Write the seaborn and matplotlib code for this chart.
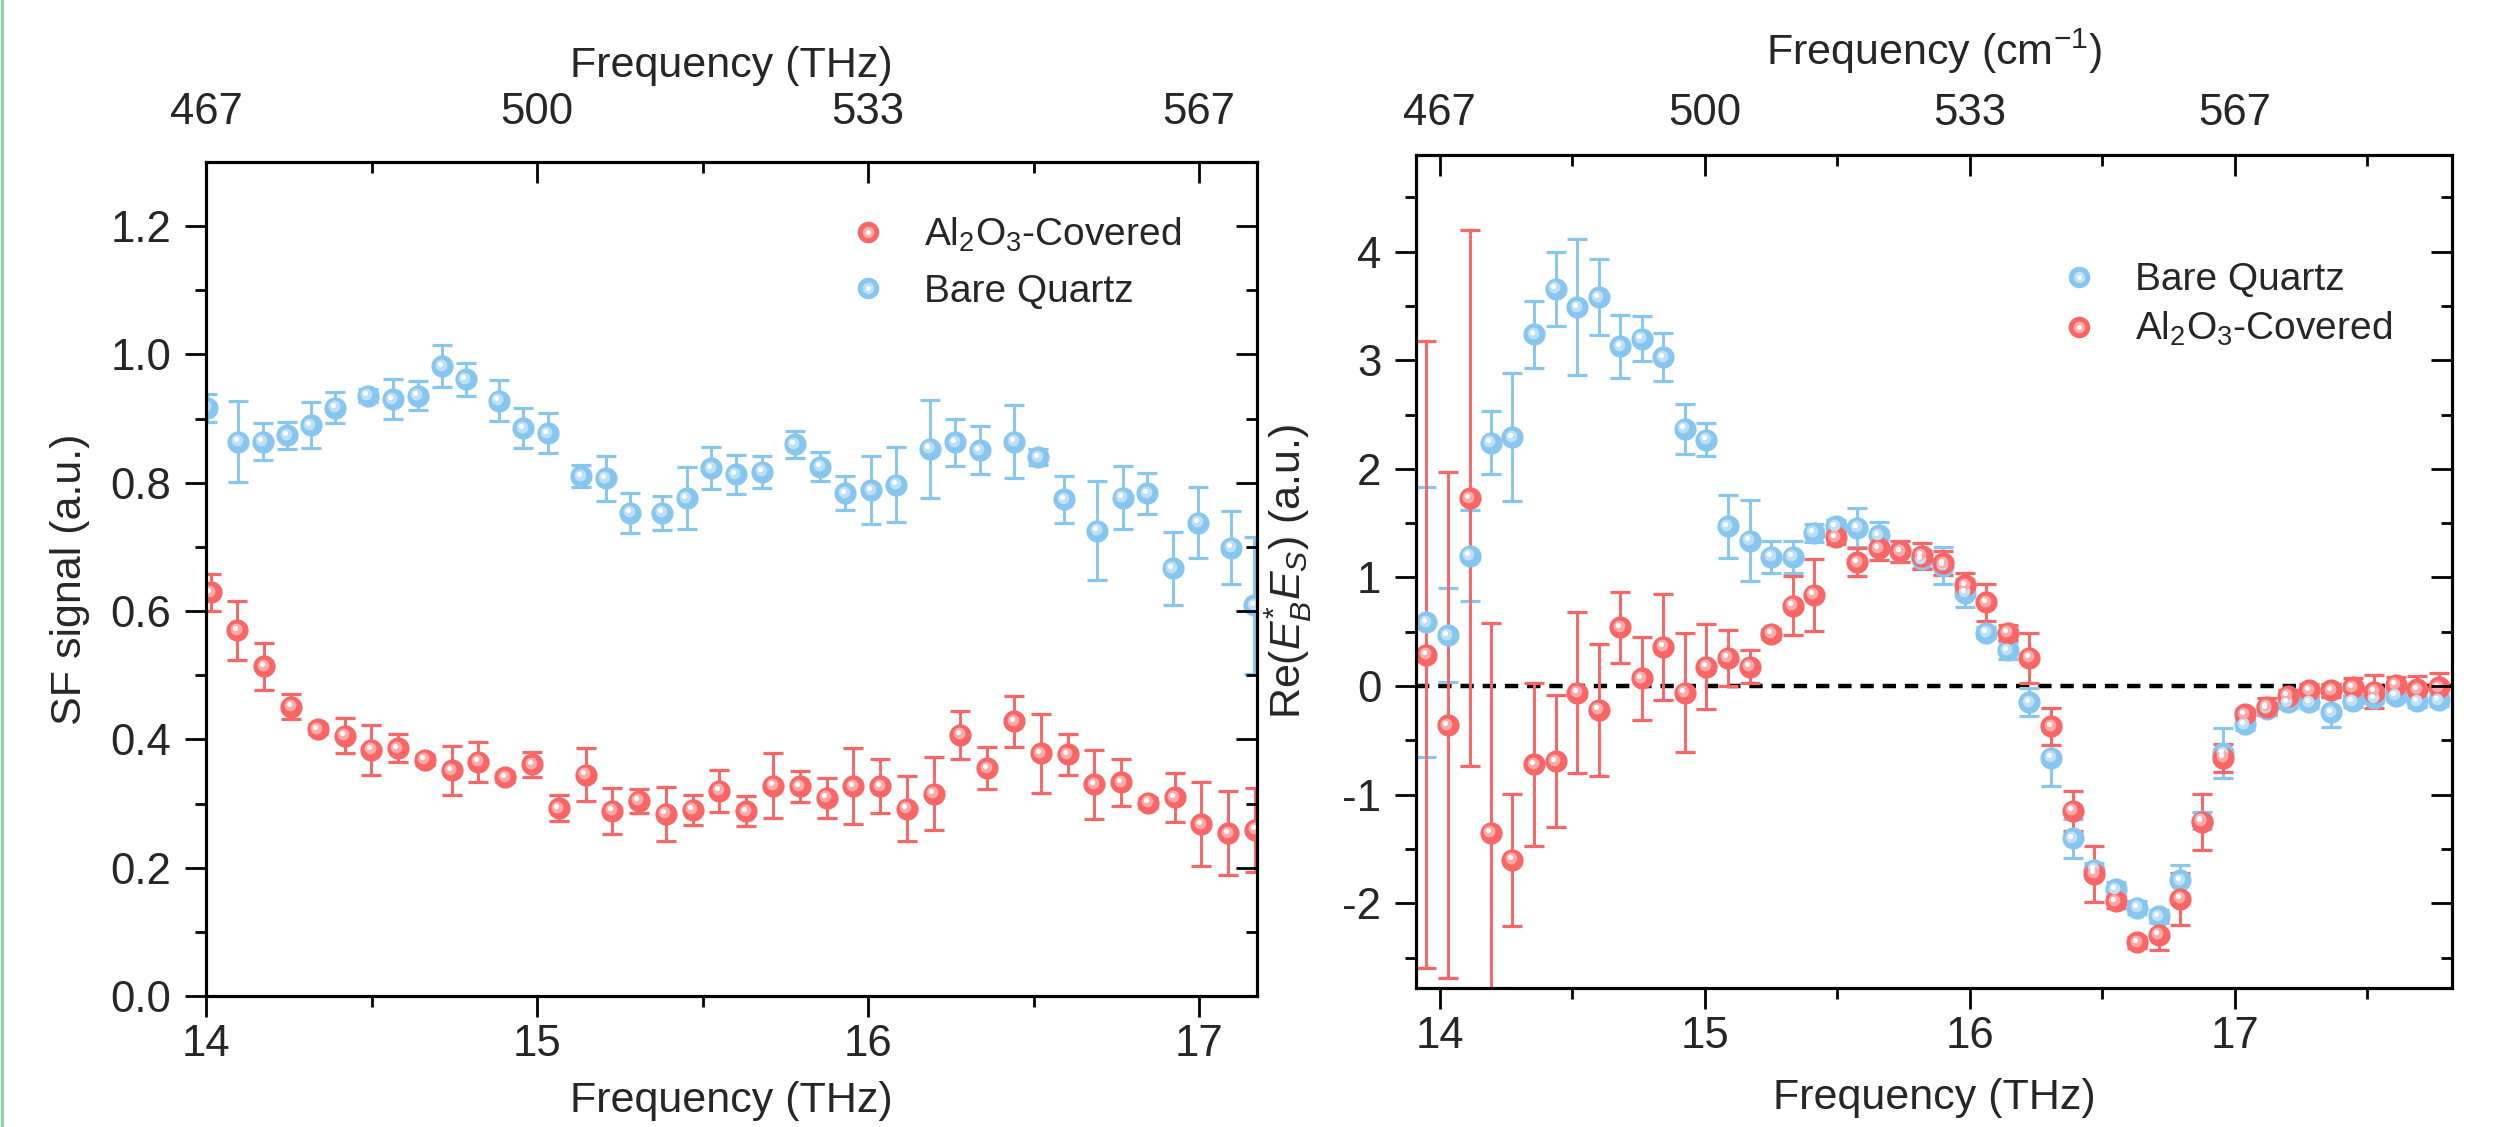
import numpy as np
import pandas as pd
import matplotlib
matplotlib.use('Agg')
import matplotlib.pyplot as plt
import matplotlib.transforms as mtransforms
from matplotlib.lines import Line2D
from matplotlib.legend_handler import HandlerTuple
from matplotlib.ticker import FormatStrFormatter
import seaborn as sns

# ---------------- data: left panel (SF signal) ----------------
left_x_quartz = [14.003, 14.097, 14.171, 14.245, 14.317, 14.391, 14.489, 14.564, 14.639, 14.713,
                 14.785, 14.885, 14.959, 15.033, 15.133, 15.207, 15.281, 15.378, 15.453, 15.526,
                 15.601, 15.680, 15.779, 15.855, 15.931, 16.009, 16.085, 16.187, 16.263, 16.338,
                 16.441, 16.514, 16.592, 16.692, 16.769, 16.844, 16.921, 16.997, 17.097, 17.166]
left_y_quartz = [0.917, 0.864, 0.864, 0.874, 0.890, 0.917, 0.936, 0.930, 0.936, 0.982,
                 0.961, 0.928, 0.885, 0.877, 0.810, 0.807, 0.753, 0.753, 0.776, 0.823,
                 0.813, 0.817, 0.860, 0.825, 0.784, 0.788, 0.797, 0.853, 0.863, 0.851,
                 0.864, 0.840, 0.774, 0.725, 0.777, 0.784, 0.667, 0.738, 0.699, 0.609]
left_e_quartz = [0.022, 0.063, 0.029, 0.021, 0.036, 0.024, 0.010, 0.031, 0.022, 0.032,
                 0.026, 0.032, 0.031, 0.031, 0.017, 0.035, 0.031, 0.027, 0.048, 0.032,
                 0.031, 0.025, 0.021, 0.023, 0.026, 0.053, 0.058, 0.076, 0.037, 0.038,
                 0.057, 0.012, 0.036, 0.077, 0.049, 0.032, 0.057, 0.055, 0.057, 0.107]

left_x_al2o3 = [14.014, 14.095, 14.176, 14.257, 14.338, 14.419, 14.499, 14.580, 14.661, 14.742,
                14.823, 14.904, 14.985, 15.066, 15.147, 15.228, 15.308, 15.389, 15.470, 15.551,
                15.632, 15.713, 15.794, 15.875, 15.956, 16.037, 16.117, 16.198, 16.279, 16.360,
                16.441, 16.522, 16.603, 16.684, 16.765, 16.846, 16.926, 17.007, 17.088, 17.169]
left_y_al2o3 = [0.629, 0.570, 0.514, 0.451, 0.416, 0.406, 0.384, 0.386, 0.368, 0.352,
                0.365, 0.341, 0.361, 0.293, 0.345, 0.289, 0.304, 0.284, 0.290, 0.320,
                0.288, 0.328, 0.327, 0.309, 0.327, 0.327, 0.292, 0.315, 0.407, 0.355,
                0.428, 0.378, 0.377, 0.330, 0.333, 0.301, 0.310, 0.268, 0.254, 0.259]
left_e_al2o3 = [0.029, 0.046, 0.037, 0.019, 0.008, 0.028, 0.039, 0.022, 0.008, 0.038,
                0.031, 0.008, 0.019, 0.020, 0.041, 0.036, 0.018, 0.042, 0.024, 0.033,
                0.023, 0.050, 0.024, 0.031, 0.059, 0.042, 0.051, 0.057, 0.038, 0.033,
                0.040, 0.061, 0.032, 0.054, 0.037, 0.008, 0.038, 0.065, 0.065, 0.065]

# ---------------- data: right panel (Re(E_B* E_S)) ----------------
right_x = [13.949, 14.030, 14.112, 14.193, 14.274, 14.356, 14.437, 14.518, 14.599, 14.681,
           14.762, 14.843, 14.925, 15.006, 15.087, 15.169, 15.250, 15.331, 15.412, 15.494,
           15.575, 15.656, 15.738, 15.819, 15.900, 15.982, 16.063, 16.144, 16.225, 16.307,
           16.388, 16.469, 16.551, 16.632, 16.713, 16.795, 16.876, 16.957, 17.038, 17.120,
           17.201, 17.282, 17.364, 17.445, 17.526, 17.608, 17.689, 17.770]
right_y_quartz = [0.59, 0.47, 1.20, 2.24, 2.29, 3.24, 3.66, 3.49, 3.58, 3.13,
                  3.20, 3.03, 2.37, 2.27, 1.47, 1.34, 1.19, 1.19, 1.41, 1.47,
                  1.46, 1.39, 1.24, 1.17, 1.11, 0.86, 0.49, 0.33, -0.15, -0.66,
                  -1.40, -1.69, -1.87, -2.04, -2.12, -1.79, -1.24, -0.62, -0.35, -0.21,
                  -0.15, -0.15, -0.24, -0.14, -0.11, -0.09, -0.14, -0.13]
right_e_quartz = [1.24, 0.43, 0.42, 0.29, 0.59, 0.31, 0.34, 0.63, 0.35, 0.29,
                  0.21, 0.22, 0.23, 0.15, 0.29, 0.37, 0.15, 0.15, 0.08, 0.06,
                  0.18, 0.12, 0.10, 0.08, 0.17, 0.13, 0.05, 0.08, 0.13, 0.26,
                  0.18, 0.06, 0.07, 0.06, 0.06, 0.14, 0.08, 0.23, 0.05, 0.05,
                  0.05, 0.05, 0.14, 0.05, 0.05, 0.05, 0.05, 0.05]
right_y_al2o3 = [0.29, -0.36, 1.73, -1.35, -1.60, -0.72, -0.69, -0.06, -0.22, 0.54,
                 0.07, 0.36, -0.06, 0.18, 0.26, 0.18, 0.48, 0.74, 0.84, 1.37,
                 1.14, 1.27, 1.24, 1.20, 1.13, 0.93, 0.77, 0.49, 0.26, -0.37,
                 -1.15, -1.73, -1.98, -2.36, -2.29, -1.96, -1.25, -0.66, -0.26, -0.19,
                 -0.09, -0.04, -0.04, -0.01, -0.05, 0.01, -0.03, -0.01]
right_e_al2o3 = [2.89, 2.33, 2.47, 1.93, 0.61, 0.75, 0.61, 0.74, 0.61, 0.33,
                 0.38, 0.49, 0.55, 0.39, 0.26, 0.15, 0.05, 0.27, 0.33, 0.06,
                 0.13, 0.11, 0.10, 0.12, 0.11, 0.11, 0.17, 0.07, 0.23, 0.17,
                 0.18, 0.26, 0.06, 0.05, 0.14, 0.24, 0.26, 0.13, 0.05, 0.08,
                 0.05, 0.06, 0.06, 0.08, 0.15, 0.07, 0.12, 0.13]

top_tick_pos = [14, 15, 16, 17]
top_tick_labels = ['467', '500', '533', '567']

label_quartz = 'Bare Quartz'
label_al2o3 = r'Al$_2$O$_3$-Covered'

# ---------------- style ----------------
sns.set_theme(style='ticks')
plt.rcParams['font.family'] = ['Liberation Sans', 'DejaVu Sans']
plt.rcParams['mathtext.fontset'] = 'custom'
plt.rcParams['mathtext.rm'] = 'Liberation Sans'
plt.rcParams['mathtext.it'] = 'Liberation Sans:italic'
plt.rcParams['mathtext.bf'] = 'Liberation Sans:bold'
plt.rcParams['mathtext.sf'] = 'Liberation Sans'
plt.rcParams['axes.unicode_minus'] = False

RED = '#FA6565'
BLUE = '#87C6EF'
TICK_FS = 31.5
LABEL_FS = 31
LEG_FS = 28


def lighten(c, f):
    rgb = np.array(matplotlib.colors.to_rgb(c))
    return tuple(rgb + (1 - rgb) * f)


fig = plt.figure(figsize=(25.06, 11.27), dpi=100)
W, H = 2506.0, 1127.0
axL = fig.add_axes([206 / W, 1 - 996 / H, 1051 / W, 834 / H])
axR = fig.add_axes([1416 / W, 1 - 988 / H, 1036 / W, 833 / H])


def draw_series(ax, x, y, e, color):
    ax.errorbar(x, y, yerr=e, fmt='none', ecolor=color, elinewidth=2.1,
                capsize=7, capthick=2.3, zorder=2)
    df = pd.DataFrame({'x': x, 'y': y})
    sns.scatterplot(data=df, x='x', y='y', ax=ax, color=color, s=255,
                    linewidth=0, zorder=3, legend=False)
    tr1 = mtransforms.offset_copy(ax.transData, fig=fig, x=-1.5, y=1.5, units='dots')
    ax.scatter(x, y, s=72, color=lighten(color, 0.45), linewidth=0, zorder=4, transform=tr1)
    tr2 = mtransforms.offset_copy(ax.transData, fig=fig, x=-2.5, y=2.5, units='dots')
    ax.scatter(x, y, s=14, color='white', linewidth=0, zorder=5, transform=tr2)


def leg_handle(color):
    h1 = Line2D([], [], ls='none', marker='o', ms=15.5, mfc=color, mec='none')
    h2 = Line2D([], [], ls='none', marker='o', ms=8.3, mfc=lighten(color, 0.45), mec='none')
    h3 = Line2D([], [], ls='none', marker='o', ms=3.6, mfc='white', mec='none')
    return (h1, h2, h3)


def style_axes(ax, xlim, ylim, xmaj, xmin, ymaj, ymin, yfmt, top_label, top_pad, top_tick_pad):
    ax.set_xlim(*xlim)
    ax.set_ylim(*ylim)
    ax.set_xticks(xmaj)
    ax.set_xticks(xmin, minor=True)
    ax.set_yticks(ymaj)
    ax.set_yticks(ymin, minor=True)
    ax.yaxis.set_major_formatter(FormatStrFormatter(yfmt))
    ax.tick_params(axis='both', which='major', direction='out', length=15, width=2,
                   labelsize=TICK_FS, top=False, right=False, color='black')
    ax.tick_params(axis='y', which='major', pad=10)
    ax.tick_params(axis='x', which='major', pad=5)
    ax.tick_params(axis='both', which='minor', direction='out', length=8, width=2,
                   top=False, right=False, color='black')
    for sp in ax.spines.values():
        sp.set_linewidth(2.2)
        sp.set_color('black')
        sp.set_visible(True)
    # top axis
    axT = ax.twiny()
    axT.set_xlim(*xlim)
    axT.set_xticks(top_tick_pos)
    axT.set_xticklabels(top_tick_labels)
    axT.set_xticks(xmin, minor=True)
    axT.tick_params(axis='x', which='major', direction='in', length=15, width=2,
                    labelsize=TICK_FS, pad=top_tick_pad, color='black')
    axT.tick_params(axis='x', which='minor', direction='in', length=8, width=2, color='black')
    axT.set_xlabel(top_label, fontsize=LABEL_FS, labelpad=top_pad)
    # right axis
    axRt = ax.twinx()
    axRt.set_ylim(*ylim)
    axRt.set_yticks(ymaj)
    axRt.set_yticks(ymin, minor=True)
    axRt.tick_params(axis='y', which='major', direction='in', length=15, width=2,
                     labelright=False, color='black')
    axRt.tick_params(axis='y', which='minor', direction='in', length=8, width=2, color='black')
    for a in (axT, axRt):
        for sp in a.spines.values():
            sp.set_linewidth(2.2)
            sp.set_color('black')


# ---------------- left panel ----------------
draw_series(axL, left_x_quartz, left_y_quartz, left_e_quartz, BLUE)
draw_series(axL, left_x_al2o3, left_y_al2o3, left_e_al2o3, RED)
style_axes(axL, (14, 17.175), (0, 1.3), [14, 15, 16, 17], [14.5, 15.5, 16.5],
           [0, 0.2, 0.4, 0.6, 0.8, 1.0, 1.2], [0.1, 0.3, 0.5, 0.7, 0.9, 1.1],
           '%.1f', 'Frequency (THz)', 11, 21)
axL.set_xlabel('Frequency (THz)', fontsize=LABEL_FS, labelpad=12)
axL.set_ylabel('SF signal (a.u.)', fontsize=LABEL_FS, labelpad=15)
axL.legend([leg_handle(RED), leg_handle(BLUE)], [label_al2o3, label_quartz],
           handler_map={tuple: HandlerTuple(ndivide=1)},
           loc='upper left', bbox_to_anchor=(0.615, 0.936), frameon=False,
           fontsize=LEG_FS, handlelength=0.8, handletextpad=1.05,
           labelspacing=0.52, borderpad=0, borderaxespad=0)

# ---------------- right panel ----------------
axR.axhline(0, color='black', lw=3.2, ls=(0, (3.0, 2.0)), zorder=1)
draw_series(axR, right_x, right_y_quartz, right_e_quartz, BLUE)
draw_series(axR, right_x, right_y_al2o3, right_e_al2o3, RED)
style_axes(axR, (13.91, 17.82), (-2.78, 4.89), [14, 15, 16, 17], [14.5, 15.5, 16.5, 17.5],
           [-2, -1, 0, 1, 2, 3, 4], [-2.5, -1.5, -0.5, 0.5, 1.5, 2.5, 3.5, 4.5],
           '%d', r'Frequency (cm$^{-1}$)', 20, 15)
axR.set_xlabel('Frequency (THz)', fontsize=LABEL_FS, labelpad=15)
axR.set_ylabel(r'Re($E_B^{*}E_S$) (a.u.)', fontsize=LABEL_FS, labelpad=20)
axR.legend([leg_handle(BLUE), leg_handle(RED)], [label_quartz, label_al2o3],
           handler_map={tuple: HandlerTuple(ndivide=1)},
           loc='upper left', bbox_to_anchor=(0.625, 0.871), frameon=False,
           fontsize=LEG_FS, handlelength=0.8, handletextpad=1.05,
           labelspacing=0.3, borderpad=0, borderaxespad=0)

# thin green border line at the left edge of the image
fig.add_artist(Line2D([0.0008, 0.0008], [0, 1], transform=fig.transFigure,
                      color='#7DD79A', lw=2))

fig.savefig('out.png', dpi=100, facecolor='white')
